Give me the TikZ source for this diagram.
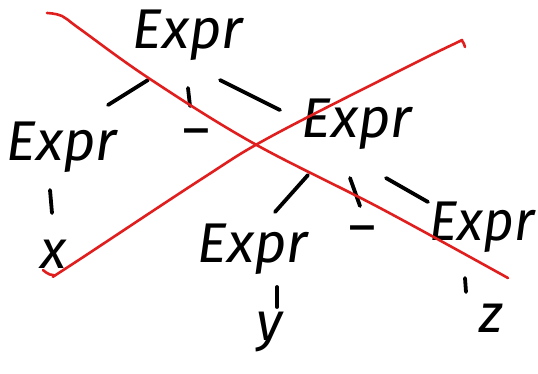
\documentclass[tikz,border=0pt]{standalone}
\usepackage{fontspec}
\setmainfont{Fira Sans}
\usetikzlibrary{calc}
\definecolor{xred}{RGB}{225,30,30}
\begin{document}
\begin{tikzpicture}[x=1pt,y=-1pt,
  lbl/.style={font=\fontsize{56}{56}\selectfont\itshape, inner sep=0pt, anchor=base},
  leaf/.style={font=\fontsize{54}{54}\selectfont\itshape, inner sep=0pt, anchor=base},
  dashnode/.style={font=\fontsize{56}{56}\selectfont, inner sep=0pt, anchor=base, xscale=1.5},
  edge/.style={line width=3.8pt, line cap=round, black},
  cross/.style={line width=2.6pt, line cap=round, line join=round, color=xred}]
\useasboundingbox (0,0) rectangle (538,373);
% nodes
\node[lbl] (e0) at (188,48) {Expr};
\node[lbl] (e1) at (62,160) {Expr};
\node[lbl] (e2) at (357,137) {Expr};
\node[lbl] (e3) at (253,262) {Expr};
\node[lbl, xscale=0.95] (e4) at (482,240) {Expr};
\node[dashnode] (m0) at (196,148) {-};
\node[dashnode] (m1) at (362,245) {-};
\node[leaf] (lx) at (53,268) {x};
\node[leaf] (ly) at (270,340) {y};
\node[leaf] (lz) at (491,332) {z};
% connectors
\draw[edge] ($(e0.base)+(-40,32)$) -- ($(e1.base)+(46,-55)$);
\draw[edge] ($(e0.base)+(0,40)$) -- ($(m0.base)+(-6,-42)$);
\draw[edge] ($(e0.base)+(32,32)$) -- ($(e2.base)+(-77,-27)$);
\draw[edge] ($(e1.base)+(-12,30)$) -- ($(lx.base)+(-1,-55)$);
\draw[edge] ($(e2.base)+(-49,38)$) -- ($(e3.base)+(22,-50)$);
\draw[edge] ($(e2.base)+(-7,41)$) -- ($(m1.base)+(-2,-39)$);
\draw[edge] ($(e2.base)+(29,41)$) -- ($(e4.base)+(-54,-38)$);
\draw[edge] ($(e3.base)+(24,25)$) -- ($(ly.base)+(7,-33)$);
\draw[edge] ($(e4.base)+(-17,38)$) -- ($(lz.base)+(-25,-40)$);
% red cross
\draw[cross] plot[smooth, tension=0.6] coordinates {(47,13) (62,16) (80,29) (150,79) (253,143) (380,208) (508,278)};
\draw[cross] plot[smooth, tension=0.6] coordinates {(43,270) (53,275) (68,267) (200,180) (270,137) (403,69) (456,43) (462,41) (465,47)};
\end{tikzpicture}
\end{document}
